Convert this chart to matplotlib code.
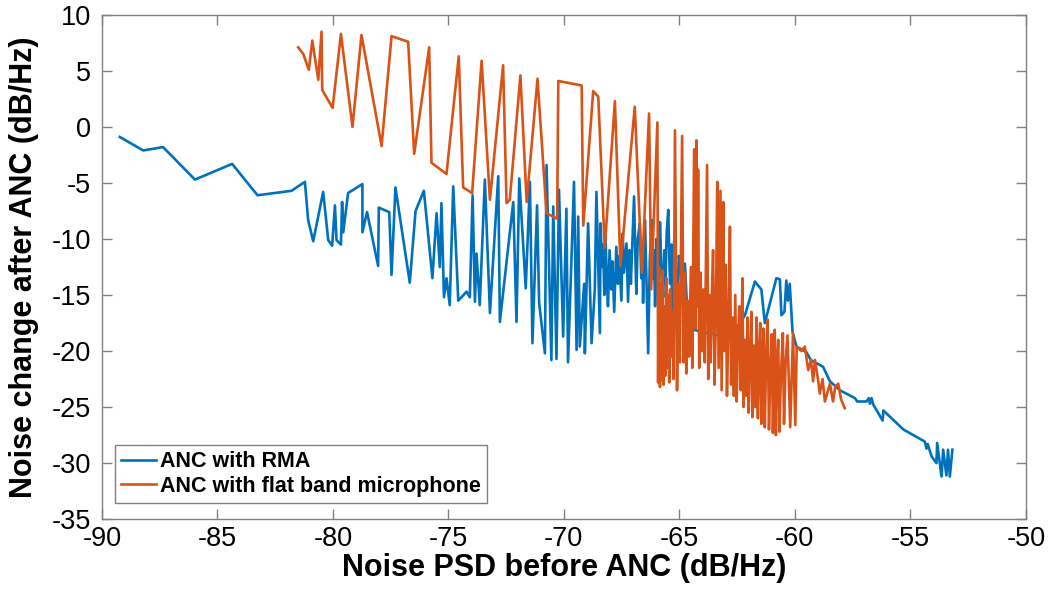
import numpy as np
import matplotlib
matplotlib.use('Agg')
import matplotlib.pyplot as plt

# ANC with RMA (blue): (noise PSD before, noise change after)
rma_pts = [
    (-89.22, -0.9), (-88.21, -2.1), (-87.35, -1.8), (-85.97, -4.7), (-84.36, -3.3),
    (-83.26, -6.1), (-81.79, -5.7), (-81.21, -4.9), (-81.07, -8.3), (-80.85, -10.2),
    (-80.42, -5.8), (-80.20, -10.1), (-80.03, -10.6), (-79.91, -7.0), (-79.84, -10.1),
    (-79.65, -10.5), (-79.60, -6.7), (-79.55, -9.4), (-79.34, -5.9), (-78.72, -5.1),
    (-78.72, -9.4), (-78.52, -7.6), (-78.04, -12.4), (-78.01, -7.2), (-77.56, -7.6),
    (-77.46, -13.2), (-77.29, -5.4), (-76.67, -13.9), (-76.42, -7.5), (-76.06, -5.7),
    (-75.69, -13.5), (-75.51, -7.7), (-75.37, -12.5), (-75.30, -6.8), (-75.19, -15.2),
    (-75.08, -13.5), (-74.94, -15.9), (-74.79, -5.3), (-74.57, -15.5), (-74.21, -14.7),
    (-74.07, -15.2), (-73.95, -6.1), (-73.85, -15.6), (-73.78, -11.3), (-73.64, -15.9),
    (-73.42, -4.7), (-73.20, -16.6), (-72.84, -4.4), (-72.77, -17.4), (-72.19, -6.7),
    (-72.05, -17.4), (-71.93, -4.6), (-71.65, -14.4), (-71.47, -4.9), (-71.36, -19.3),
    (-71.16, -7.0), (-71.07, -15.7), (-70.82, -20.2), (-70.75, -3.4), (-70.54, -20.8),
    (-70.46, -7.1), (-70.32, -20.7), (-70.21, -5.6), (-70.03, -18.7), (-69.89, -7.3),
    (-69.82, -21.0), (-69.56, -4.9), (-69.45, -19.9), (-69.38, -8.0), (-69.31, -19.6),
    (-69.12, -14.0), (-69.09, -20.2), (-68.95, -8.6), (-68.80, -19.3), (-68.66, -14.5),
    (-68.59, -5.8), (-68.44, -18.4), (-68.41, -8.6), (-68.35, -12.5), (-68.30, -10.5),
    (-68.25, -15.0), (-68.20, -9.5), (-68.15, -13.0), (-68.09, -16.0), (-68.02, -11.0),
    (-67.95, -14.5), (-67.90, -12.0), (-67.82, -16.5), (-67.73, -10.7), (-67.66, -14.0),
    (-67.60, -11.5), (-67.51, -15.5), (-67.45, -9.5), (-67.40, -13.0), (-67.29, -10.4),
    (-67.22, -15.6), (-67.16, -11.0), (-67.10, -14.0), (-66.96, -6.2), (-66.90, -12.0),
    (-66.86, -14.9), (-66.80, -10.0), (-66.71, -8.6), (-66.65, -13.5), (-66.60, -11.0),
    (-66.57, -15.7), (-66.52, -10.5), (-66.49, -8.3), (-66.42, -14.0), (-66.35, -20.2),
    (-66.28, -12.0), (-66.20, -8.3), (-66.15, -13.5), (-66.10, -11.0), (-66.05, -16.0),
    (-66.00, -10.0), (-65.95, -14.0), (-65.90, -15.5), (-65.84, -8.5), (-65.78, -12.5),
    (-65.70, -15.2), (-65.65, -11.0), (-65.60, -14.0), (-65.55, -9.5), (-65.48, -7.4),
    (-65.43, -12.0), (-65.40, -14.0), (-65.35, -10.5), (-65.30, -18.0), (-65.25, -11.0),
    (-65.20, -9.5), (-65.15, -14.5), (-65.10, -16.0), (-65.02, -11.5), (-64.95, -12.5),
    (-64.85, -16.0), (-64.76, -12.2), (-64.62, -18.0), (-63.50, -18.5), (-62.81, -18.9),
    (-62.16, -16.8), (-61.73, -13.8), (-61.45, -14.5), (-61.30, -17.5), (-60.80, -13.5),
    (-60.65, -13.6), (-60.58, -16.8), (-60.45, -16.5), (-60.37, -13.7), (-60.30, -15.5),
    (-60.22, -14.0), (-60.10, -18.3), (-59.93, -19.6), (-59.50, -20.1), (-59.31, -20.8),
    (-58.78, -21.4), (-58.48, -22.7), (-58.05, -23.5), (-57.40, -24.2), (-57.30, -24.5),
    (-56.90, -24.5), (-56.80, -24.2), (-56.75, -24.7), (-56.68, -24.2), (-56.60, -24.8),
    (-56.20, -26.2), (-56.17, -25.3), (-55.30, -27.0), (-54.44, -28.0), (-54.37, -28.1),
    (-54.30, -28.7), (-54.25, -28.3), (-54.08, -29.4), (-53.87, -30.0), (-53.84, -28.2),
    (-53.65, -31.2), (-53.58, -28.8), (-53.44, -31.1), (-53.37, -28.8), (-53.29, -31.2),
    (-53.18, -28.8),
]

# ANC with flat band microphone (orange)
flat_pts = [
    (-81.50, 7.1), (-81.28, 6.5), (-81.04, 5.1), (-80.89, 7.7), (-80.63, 4.2),
    (-80.49, 8.5), (-80.46, 3.3), (-80.01, 1.7), (-79.65, 8.3), (-79.15, 0.0),
    (-78.76, 8.2), (-77.89, -1.7), (-77.46, 8.1), (-76.74, 7.6), (-76.48, -2.4),
    (-75.83, 7.1), (-75.73, -3.2), (-75.08, -4.2), (-74.55, 6.3), (-74.36, -5.4),
    (-73.97, -5.9), (-73.56, 5.9), (-73.20, -6.5), (-72.63, 5.5), (-72.48, -6.8),
    (-72.34, -6.5), (-71.88, 4.6), (-71.61, -6.7), (-71.14, 4.3), (-70.75, -7.7),
    (-70.29, -8.2), (-70.24, 4.1), (-69.23, 3.7), (-69.16, -8.8), (-68.73, 3.2),
    (-68.51, 2.7), (-68.23, -10.8), (-67.79, 2.3), (-67.55, -12.4), (-66.93, 1.8),
    (-66.62, -13.0), (-66.31, 1.2), (-66.22, -14.5), (-65.95, 0.4), (-65.92, -22.8),
    (-65.88, -12.5), (-65.84, -23.2), (-65.80, -14.0), (-65.76, -22.6), (-65.72, -12.8),
    (-65.68, -23.0), (-65.64, -16.0), (-65.60, -22.2), (-65.56, -13.5), (-65.52, -21.5),
    (-65.48, -15.0), (-65.44, -22.8), (-65.40, -14.5), (-65.36, -20.5), (-65.30, -16.5),
    (-65.25, -22.5), (-65.19, -0.3), (-65.10, -23.5), (-65.04, -14.0), (-64.98, -21.0),
    (-64.88, -0.8), (-64.82, -21.0), (-64.76, -13.0), (-64.70, -22.0), (-64.64, -15.5),
    (-64.58, -20.5), (-64.50, -12.5), (-64.44, -21.5), (-64.36, -2.0), (-64.30, -18.0),
    (-64.26, -1.2), (-64.22, -16.0), (-64.19, -3.8), (-64.14, -21.5), (-64.08, -13.0),
    (-64.02, -20.0), (-63.96, -14.5), (-63.90, -21.0), (-63.80, -3.4), (-63.75, -22.5),
    (-63.70, -15.0), (-63.65, -21.0), (-63.58, -14.0), (-63.54, -11.0), (-63.48, -23.0),
    (-63.42, -17.0), (-63.36, -4.9), (-63.30, -21.5), (-63.22, -5.7), (-63.17, -23.5),
    (-63.10, -6.7), (-63.06, -20.0), (-62.99, -12.3), (-62.94, -24.0), (-62.88, -18.0),
    (-62.81, -8.9), (-62.76, -23.0), (-62.70, -17.0), (-62.64, -24.0), (-62.58, -15.0),
    (-62.52, -24.5), (-62.46, -19.0), (-62.40, -16.0), (-62.34, -23.5), (-62.27, -13.5),
    (-62.22, -25.0), (-62.16, -19.0), (-62.10, -24.0), (-62.05, -17.0), (-62.00, -25.5),
    (-61.94, -20.0), (-61.88, -16.5), (-61.84, -25.9), (-61.78, -19.5), (-61.72, -25.0),
    (-61.66, -17.0), (-61.60, -26.0), (-61.55, -20.5), (-61.50, -17.5), (-61.45, -26.5),
    (-61.40, -21.0), (-61.36, -18.0), (-61.30, -26.8), (-61.24, -20.0), (-61.18, -17.2),
    (-61.12, -27.0), (-61.06, -21.5), (-61.00, -18.5), (-60.95, -27.3), (-60.90, -22.0),
    (-60.87, -18.1), (-60.82, -27.5), (-60.77, -21.0), (-60.72, -19.0), (-60.67, -27.2),
    (-60.60, -22.0), (-60.52, -18.4), (-60.47, -26.5), (-60.40, -21.0), (-60.32, -18.6),
    (-60.20, -26.8), (-60.08, -18.4), (-59.98, -26.6), (-59.92, -19.6), (-59.72, -20.0),
    (-59.57, -19.6), (-59.42, -21.7), (-59.30, -20.8), (-59.21, -22.7), (-59.13, -20.8),
    (-59.00, -22.5), (-58.92, -23.8), (-58.80, -22.5), (-58.70, -24.5), (-58.48, -22.9),
    (-58.35, -24.5), (-58.25, -23.2), (-58.12, -22.9), (-58.00, -24.3), (-57.84, -25.1),
]

labels = ['ANC with RMA', 'ANC with flat band microphone']
colors = ['#0072BD', '#D95319']
xticks = np.arange(-90, -49, 5)
yticks = np.arange(-35, 11, 5)

plt.rcParams['font.family'] = ['Liberation Sans', 'DejaVu Sans']
plt.rcParams['axes.unicode_minus'] = False

fig = plt.figure(figsize=(10.5, 5.94), dpi=100)
ax = fig.add_axes([0.097, 0.126, 0.88, 0.849])

for pts, lab, c in zip([rma_pts, flat_pts], labels, colors):
    xs, ys = zip(*pts)
    ax.plot(xs, ys, color=c, lw=1.9, label=lab)

ax.set_xlim(-90, -50)
ax.set_ylim(-35, 10)
ax.set_xticks(xticks)
ax.set_yticks(yticks)
ax.tick_params(direction='in', length=7, width=1, top=True, right=True,
               labelsize=19.5, color='#808080')
ax.tick_params(axis='y', pad=8)
ax.tick_params(axis='x', pad=5)
for s in ax.spines.values():
    s.set_color('#808080')
    s.set_linewidth(1)

ax.set_xlabel('Noise PSD before ANC (dB/Hz)', fontsize=22, fontweight='bold', labelpad=1)
ax.set_ylabel('Noise change after ANC (dB/Hz)', fontsize=22, fontweight='bold', labelpad=9)

leg = ax.legend(loc='lower left', bbox_to_anchor=(0.014, 0.032),
                prop={'weight': 'bold', 'size': 15.5}, fancybox=False, framealpha=1,
                edgecolor='#808080', handlelength=1.6, handletextpad=0.2,
                borderpad=0.3, labelspacing=0.15, borderaxespad=0)
leg.get_frame().set_linewidth(1)

fig.savefig('out.png', dpi=100)
